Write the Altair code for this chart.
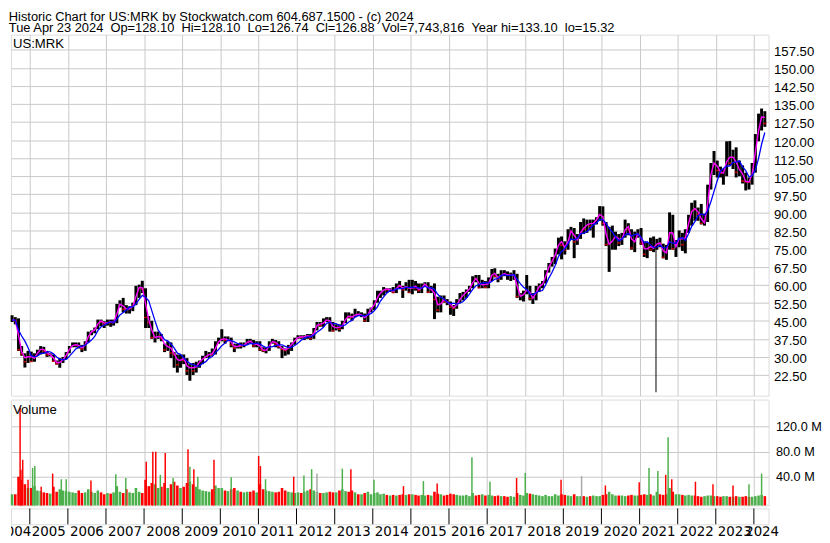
import altair as alt
import pandas as pd

FONT = "Liberation Sans"
GRID = "#c8c8c8"
RED = "#ff0000"
GREEN = "#4cb04c"
GRAY = "#a8a8a8"
NB = "\u00a0"

HEADER_1 = "Historic Chart for US:MRK by Stockwatch.com 604.687.1500 - (c) 2024"
HEADER_2 = (NB * 2).join([
    "Tue Apr 23 2024", "Op=128.10", "Hi=128.10", "Lo=126.74",
    "Cl=126.88", "Vol=7,743,816", "Year hi=133.10", "lo=15.32"])

# monthly bars, Jul 2004 .. Apr 2024
MONTHS = [f"{y}-{m:02d}-15" for y in range(2004, 2025) for m in range(1, 13)
          if (2004, 7) <= (y, m) <= (2024, 4)]

HIGH = [
    47.3, 46.5, 46.0, 34.5, 31.5, 32.5,
    32.2, 31.5, 33.0, 34.5, 34.2, 32.5, 31.5, 31.0, 28.5, 29.5, 30.0, 32.0,
    34.5, 36.0, 36.0, 36.0, 35.0, 36.5, 40.5, 41.0, 42.2, 45.5, 45.5, 44.8,
    45.5, 45.5, 45.5, 52.0, 53.5, 54.5, 51.5, 51.0, 52.5, 59.5, 60.0, 61.6,
    58.5, 47.0, 45.0, 40.5, 40.5, 39.5, 35.5, 36.5, 36.0, 32.0, 31.0, 31.0,
    31.0, 29.5, 27.0, 27.5, 28.0, 28.5, 30.5, 32.5, 32.0, 33.5, 36.5, 38.0,
    41.5, 38.5, 38.5, 38.0, 35.5, 35.5, 36.0, 36.0, 37.5, 37.5, 37.0, 36.5,
    36.5, 34.0, 34.0, 36.5, 37.5, 37.0, 36.5, 34.5, 33.5, 35.0, 36.0, 38.0,
    39.0, 39.0, 39.0, 39.5, 39.5, 42.0, 44.5, 44.5, 46.0, 46.5, 46.5, 44.5,
    43.5, 43.5, 45.0, 48.5, 48.5, 48.0, 50.0, 49.0, 48.5, 48.0, 50.0, 50.5,
    53.5, 57.5, 57.5, 59.0, 58.5, 58.5, 59.0, 60.5, 61.5, 59.5, 61.0, 62.0,
    62.0, 61.5, 60.5, 60.5, 61.0, 61.0, 59.5, 60.5, 55.0, 55.5, 55.5, 54.0,
    53.0, 51.5, 54.0, 56.5, 57.0, 58.0, 59.5, 63.5, 64.0, 64.0, 62.0, 61.5,
    63.0, 66.5, 66.8, 64.5, 66.0, 66.0, 65.5, 65.0, 66.0, 64.5, 56.5, 57.5,
    64.0, 59.5, 56.5, 59.5, 60.5, 61.5, 66.0, 69.0, 71.5, 75.0, 79.5, 80.0,
    78.0, 83.0, 84.0, 83.5, 81.0, 86.0, 87.5, 87.0, 87.0, 87.0, 88.0, 92.6,
    92.5, 86.0, 84.0, 84.5, 82.0, 81.0, 81.5, 87.0, 85.5, 83.0, 82.0, 83.0,
    83.5, 78.0, 77.5, 79.5, 80.0, 79.0, 79.5, 77.0, 76.5, 90.0, 89.0, 78.5,
    82.5, 81.5, 83.0, 89.0, 94.0, 95.0, 92.0, 93.5, 89.5, 101.5, 110.5, 115.5,
    111.5, 109.0, 108.0, 119.5, 119.6, 116.0, 117.0, 111.5, 109.5, 106.5, 104.5, 110.5,
    122.5, 131.0, 133.1, 132.0,
]
LOW = [
    44.5, 43.5, 32.5, 30.5, 25.6, 27.5,
    28.0, 28.0, 30.5, 31.0, 31.5, 30.0, 30.2, 28.0, 26.8, 25.5, 27.5, 29.0,
    31.5, 34.0, 34.0, 33.5, 32.0, 32.5, 36.0, 39.0, 39.8, 41.5, 42.8, 42.0,
    43.0, 42.5, 43.0, 44.0, 50.5, 48.5, 48.0, 48.0, 49.0, 51.5, 54.5, 56.5,
    42.0, 42.0, 37.5, 36.0, 37.5, 36.5, 32.0, 32.5, 29.5, 25.5, 23.5, 25.5,
    27.0, 22.5, 20.1, 22.5, 23.5, 25.5, 27.0, 29.5, 29.5, 30.5, 31.0, 35.5,
    36.5, 35.5, 36.5, 34.0, 32.0, 33.5, 33.5, 34.0, 35.0, 35.5, 34.0, 34.0,
    32.5, 32.0, 31.5, 32.5, 35.5, 34.0, 33.5, 29.5, 30.5, 31.0, 32.5, 35.0,
    37.5, 37.5, 37.0, 37.5, 37.0, 37.5, 41.0, 42.5, 42.5, 44.5, 40.5, 40.5,
    41.0, 40.5, 41.5, 44.0, 46.0, 45.0, 46.5, 47.0, 46.5, 44.5, 44.5, 48.5,
    49.5, 52.5, 54.5, 55.5, 56.5, 57.0, 56.5, 56.5, 58.5, 54.5, 57.5, 56.5,
    56.0, 57.5, 56.5, 56.5, 59.0, 56.5, 56.5, 45.7, 48.5, 48.5, 52.5, 51.5,
    47.5, 47.0, 50.0, 52.5, 53.5, 54.5, 57.0, 58.5, 61.0, 58.5, 58.5, 58.5,
    58.5, 61.5, 63.0, 61.0, 62.0, 63.5, 62.0, 61.5, 62.0, 54.5, 53.5, 53.0,
    56.0, 53.5, 52.0, 53.5, 57.0, 58.5, 60.5, 65.0, 67.5, 68.5, 72.5, 70.5,
    72.5, 74.5, 78.5, 71.0, 76.5, 79.0, 81.0, 81.5, 82.5, 79.5, 85.0, 86.5,
    84.5, 76.0, 65.3, 74.5, 74.5, 76.0, 76.5, 79.5, 80.5, 74.5, 73.5, 79.5,
    76.5, 71.5, 71.0, 74.0, 73.5, 74.5, 75.5, 70.9, 70.3, 74.5, 74.5, 71.5,
    75.5, 74.0, 73.0, 81.5, 84.5, 86.5, 86.5, 85.0, 84.5, 86.0, 99.5, 105.5,
    104.5, 104.5, 101.5, 105.0, 109.5, 108.0, 104.5, 105.0, 102.0, 99.1, 99.5, 101.5,
    106.5, 119.5, 124.0, 125.5,
]
CLOSE = [
    45.4, 45.0, 33.0, 31.3, 28.0, 32.1,
    28.1, 30.8, 32.4, 33.9, 32.4, 30.8, 31.1, 28.2, 27.2, 28.2, 29.4, 31.8,
    34.5, 34.9, 35.2, 34.4, 33.3, 36.4, 40.3, 40.5, 41.9, 45.4, 44.5, 43.6,
    44.8, 44.2, 44.2, 51.4, 52.5, 49.8, 49.7, 50.2, 51.7, 58.3, 59.4, 58.1,
    46.4, 44.3, 38.0, 38.0, 38.9, 37.7, 32.9, 35.7, 31.6, 31.0, 26.7, 30.4,
    28.5, 24.2, 26.8, 24.2, 27.6, 28.0, 30.0, 30.3, 31.6, 30.9, 36.2, 36.5,
    38.2, 36.8, 37.4, 35.0, 33.7, 35.0, 34.5, 35.2, 36.8, 36.3, 34.5, 36.0,
    33.1, 32.6, 33.0, 35.9, 36.8, 35.3, 34.1, 33.1, 32.7, 34.5, 35.8, 37.7,
    38.3, 38.2, 38.4, 39.2, 37.6, 41.8, 44.2, 43.0, 45.1, 45.6, 44.3, 40.9,
    43.2, 41.5, 44.2, 47.0, 46.7, 46.5, 48.2, 47.3, 47.6, 45.1, 49.8, 50.1,
    53.0, 56.3, 56.8, 58.6, 57.9, 57.9, 56.7, 60.1, 59.3, 57.9, 60.4, 56.8,
    60.3, 58.5, 57.5, 59.6, 60.9, 56.9, 59.0, 53.9, 49.4, 54.7, 53.0, 52.8,
    50.7, 50.2, 52.9, 54.8, 56.3, 57.6, 58.7, 62.8, 62.4, 58.7, 61.2, 58.9,
    62.0, 65.9, 63.5, 62.3, 65.1, 64.1, 63.9, 63.9, 64.0, 55.1, 55.3, 56.3,
    59.3, 54.2, 54.5, 58.9, 59.5, 60.7, 65.9, 68.6, 70.9, 73.6, 79.3, 76.4,
    74.4, 81.3, 83.2, 77.8, 79.2, 83.9, 83.0, 86.5, 84.2, 86.7, 87.2, 91.0,
    85.4, 76.6, 76.9, 79.3, 80.7, 77.3, 80.2, 85.3, 82.9, 75.2, 80.4, 81.8,
    77.1, 72.6, 77.1, 74.5, 75.9, 77.8, 76.9, 71.3, 75.1, 88.0, 74.9, 76.6,
    81.5, 76.6, 82.1, 88.7, 92.0, 91.2, 89.3, 85.4, 86.1, 101.2, 110.1, 110.9,
    107.4, 106.2, 106.4, 115.5, 110.4, 115.4, 106.6, 109.0, 103.0, 102.7, 102.5, 109.0,
    120.8, 127.1, 132.0, 126.9,
]
# typical monthly volume (millions)
VOL = [
    12, 12, 40, 35, 28, 22,
    22, 25, 18, 17, 15, 14, 13, 24, 16, 20, 18, 17,
    16, 15, 14, 18, 14, 15, 20, 16, 14, 18, 15, 12,
    14, 13, 15, 25, 16, 14, 20, 15, 14, 22, 16, 14,
    35, 25, 30, 28, 22, 24, 30, 22, 28, 32, 26, 22,
    24, 30, 32, 28, 24, 20, 18, 17, 16, 20, 26, 22,
    22, 18, 17, 20, 22, 18, 16, 15, 16, 16, 18, 15,
    28, 20, 18, 17, 16, 15, 16, 22, 18, 16, 15, 14,
    15, 14, 16, 18, 20, 18, 16, 14, 14, 15, 16, 15,
    15, 18, 20, 17, 16, 18, 15, 12, 12, 14, 16, 12,
    14, 15, 12, 13, 11, 10, 11, 10, 11, 12, 11, 12,
    12, 11, 10, 11, 10, 11, 10, 16, 13, 12, 10, 11,
    13, 12, 11, 10, 10, 11, 9, 14, 10, 11, 12, 10,
    11, 10, 9, 10, 9, 9, 8, 9, 8, 14, 11, 10,
    14, 13, 12, 11, 10, 9, 11, 9, 9, 12, 10, 12,
    11, 10, 9, 12, 9, 9, 9, 8, 9, 10, 9, 9,
    11, 12, 16, 12, 10, 10, 10, 9, 10, 11, 10, 10,
    11, 12, 11, 12, 10, 16, 12, 11, 12, 22, 16, 12,
    12, 11, 10, 11, 10, 10, 9, 8, 9, 10, 10, 9,
    9, 8, 9, 9, 8, 8, 9, 8, 8, 9, 8, 8,
    9, 10, 11, 9,
]

# single-day volume spikes (millions) and their bar colour
SPIKE_DATES = [
    "2004-09-30", "2004-10-08", "2004-10-25", "2004-12-15", "2005-01-28", "2005-02-18",
    "2005-04-20", "2005-08-08", "2005-10-30", "2005-12-16", "2006-08-10", "2007-04-05",
    "2007-07-10", "2008-01-22", "2008-03-25", "2008-04-22", "2008-06-05", "2008-07-22",
    "2008-10-05", "2009-02-25", "2009-03-15", "2009-04-22", "2009-05-30", "2009-11-01",
    "2010-04-15", "2011-01-03", "2011-01-20", "2011-03-10", "2011-12-05", "2012-03-12",
    "2012-05-25", "2012-07-15", "2013-03-15", "2013-06-05", "2014-01-12", "2014-10-22",
    "2015-05-01", "2015-09-10", "2016-08-08", "2017-01-28", "2017-10-10", "2018-01-01",
    "2018-12-10", "2019-06-25", "2020-02-08", "2020-12-28", "2021-04-01", "2021-06-25",
    "2021-09-08", "2021-10-01", "2021-11-05", "2022-06-20", "2022-12-05", "2023-06-15",
    "2023-11-15", "2024-03-15",
]
SPIKE_VOL = [
    150, 51, 67, 35, 54, 57,
    24, 45, 36, 36, 34, 44,
    38, 64, 80, 80, 43, 78,
    38, 84, 56, 52, 40, 67,
    39, 73, 57, 36, 40, 42,
    52, 45, 53, 52, 35, 25,
    33, 29, 71, 32, 38, 46,
    35, 41, 26, 31, 54, 49,
    43, 103, 36, 32, 28, 26,
    28, 45,
]
SPIKE_COL = [
    "R", "R", "R", "R", "G", "G",
    "R", "R", "G", "G", "R", "G",
    "G", "R", "R", "R", "G", "R",
    "G", "R", "G", "R", "G", "R",
    "G", "R", "R", "G", "R", "G",
    "G", "N", "G", "R", "G", "R",
    "G", "R", "G", "G", "R", "G",
    "R", "N", "R", "R", "G", "G",
    "R", "G", "R", "R", "R", "R",
    "G", "G",
]

# bad tick on the spin-off day
GLITCH_DATE = ["2021-06-07"]
GLITCH_LOW = [15.32]
GLITCH_HIGH = [76.0]

PRICE_TICKS = [22.5 + 7.5 * i for i in range(19)]
VOL_TICKS = [40, 80, 120]
YEARS = list(range(2005, 2025))
YEAR_LABELS = [str(y) for y in range(2004, 2025)]
LABEL_DATES = ["2004-08-05"] + [f"{y}-07-02" for y in range(2005, 2024)] + ["2024-03-20"]

PRICE_DOMAIN = [13.92, 163.78]
VOL_DOMAIN = [-5.84, 163.1]
W = 766

df = pd.DataFrame({"date": MONTHS, "high": HIGH, "low": LOW, "close": CLOSE, "vol": VOL})
spikes = pd.DataFrame({"date": SPIKE_DATES, "vol": SPIKE_VOL, "col": SPIKE_COL})
glitch = pd.DataFrame({"date": GLITCH_DATE, "low": GLITCH_LOW, "high": GLITCH_HIGH})
years_df = pd.DataFrame({"date": [f"{y}-01-01" for y in YEARS]})
labels_df = pd.DataFrame({"date": LABEL_DATES, "label": YEAR_LABELS})

X_DOMAIN = [alt.DateTime(year=2004, month=7, date=4, hours=12, utc=True),
            alt.DateTime(year=2024, month=5, date=21, utc=True)]
YEAR_TICKS = [alt.DateTime(year=y, month=1, date=1, utc=True) for y in YEARS]


def xenc(field="date", grid=True):
    if grid:
        ax = alt.Axis(values=YEAR_TICKS, grid=True, gridColor=GRID, gridWidth=1,
                      labels=False, ticks=False, domain=False, title=None)
    else:
        ax = None
    return alt.X(f"{field}:T", scale=alt.Scale(domain=X_DOMAIN, nice=False, range=[0, W]),
                 axis=ax)


def yprice(field):
    return alt.Y(f"{field}:Q",
                 scale=alt.Scale(domain=PRICE_DOMAIN, nice=False, zero=False),
                 axis=alt.Axis(orient="right", values=PRICE_TICKS, format=".2f",
                               grid=True, gridColor=GRID, gridWidth=1, ticks=False,
                               domain=False, labelPadding=5, labelOffset=2,
                               labelFont=FONT, labelFontSize=13.3, labelColor="#000000",
                               title=None))


def yvol(field):
    return alt.Y(f"{field}:Q",
                 scale=alt.Scale(domain=VOL_DOMAIN, nice=False, zero=False),
                 axis=alt.Axis(orient="right", values=VOL_TICKS,
                               labelExpr="format(datum.value, '.1f') + ' M'",
                               grid=True, gridColor=GRID, gridWidth=1, ticks=False,
                               domain=False, labelPadding=7, labelOffset=0,
                               labelFont=FONT, labelFontSize=12.8, labelColor="#000000",
                               title=None))


SORT = [alt.SortField("date")]
base = alt.Chart(df)

bars = base.mark_rule(color="black", strokeWidth=3.0).encode(
    x=xenc(), y=yprice("low"), y2="high:Q")
red_ticks = base.transform_window(prev="lag(close)", sort=SORT).transform_filter(
    "datum.prev != null && datum.close < datum.prev").mark_tick(
    color=RED, orient="horizontal", size=3, thickness=1.6).encode(
    x=xenc(), y=yprice("close"))
ma_fast = base.transform_window(ma="mean(close)", frame=[-1, 0], sort=SORT).mark_line(
    color="#ff00ff", strokeWidth=1.4).encode(x=xenc(), y=yprice("ma"))
ma_slow = base.transform_window(ma="mean(close)", frame=[-4, 0], sort=SORT).mark_line(
    color="#0000ff", strokeWidth=1.3).encode(x=xenc(), y=yprice("ma"))
glitch_rule = alt.Chart(glitch).mark_rule(color="black", strokeWidth=1).encode(
    x=xenc(), y=yprice("low"), y2="high:Q")
sym = alt.Chart(pd.DataFrame({"t": ["US:MRK"]})).mark_text(
    align="left", baseline="alphabetic", font=FONT, fontSize=13.3, color="black").encode(
    text="t:N", x=alt.value(2), y=alt.value(14))

price = alt.layer(bars, red_ticks, ma_fast, ma_slow, glitch_rule, sym).properties(
    width=W, height=365)

COLOR = alt.Color("col:N", scale=alt.Scale(domain=["R", "G", "N"], range=[RED, GREEN, GRAY]),
                  legend=None)
vbase = alt.Chart(df).transform_window(prev="lag(close)", sort=SORT).transform_calculate(
    col="datum.prev == null || datum.close >= datum.prev ? 'G' : 'R'").mark_rule(
    strokeWidth=2.6).encode(x=xenc(), y=yvol("vol"), y2=alt.datum(VOL_DOMAIN[0]), color=COLOR)
vspikes = alt.Chart(spikes).mark_rule(strokeWidth=1.5).encode(
    x=xenc(), y=yvol("vol"), y2=alt.datum(VOL_DOMAIN[0]), color=COLOR)
vlabel = alt.Chart(pd.DataFrame({"t": ["Volume"]})).mark_text(
    align="left", baseline="alphabetic", font=FONT, fontSize=13.3, color="black").encode(
    text="t:N", x=alt.value(2), y=alt.value(15))

volume = alt.layer(vbase, vspikes, vlabel).properties(width=W, height=107)

band = alt.Chart(years_df).mark_rule(color="black", strokeWidth=1).encode(
    x=xenc(grid=False), y=alt.value(0), y2=alt.value(16)).properties(width=W, height=16)

labels = alt.Chart(labels_df).mark_text(
    clip=True, font="DejaVu Sans", fontSize=13.5, color="black", baseline="alphabetic").encode(
    x=xenc(grid=False), y=alt.value(10), text="label:N").properties(
    width=792, height=10, view=alt.ViewBackground(stroke="transparent"))

lower = alt.vconcat(volume, band, labels, spacing=0).resolve_scale(
    x="independent", y="independent", color="independent")

chart = alt.vconcat(price, lower, spacing=2).resolve_scale(
    x="independent", y="independent", color="independent").properties(
    padding=0,
    title=alt.TitleParams(text=[HEADER_1, HEADER_2], anchor="start", font=FONT,
                          fontSize=13, fontWeight="normal", color="black",
                          lineHeight=11, offset=-1),
).configure_view(stroke="black", strokeWidth=1.5).configure(background="white")

chart.save("out.html", embed_options={"renderer": "svg", "actions": False})
